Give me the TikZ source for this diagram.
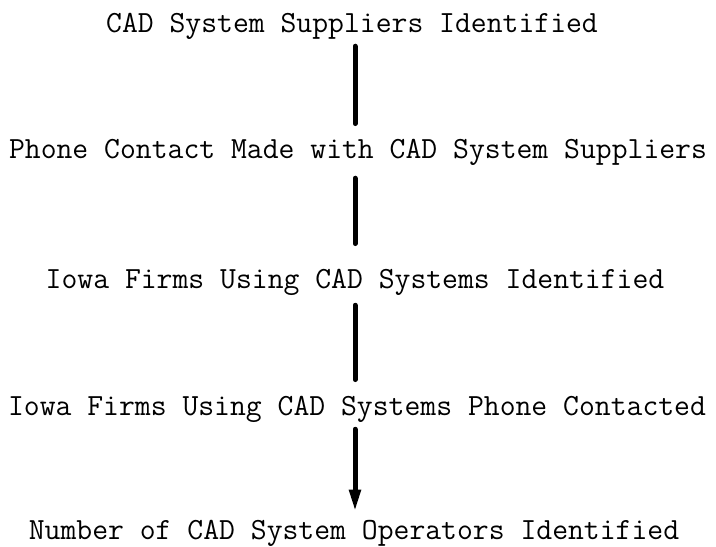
\documentclass[tikz,border=0pt]{standalone}
\usetikzlibrary{arrows.meta}

\tikzset{
  stage/.style={font=\fontsize{30.8}{36}\selectfont\ttfamily, inner sep=0pt, anchor=base},
  link/.style={line width=5pt, line cap=round},
  lastlink/.style={line width=5pt, line cap=round, -{Triangle[length=22pt,width=11pt]}}
}

\begin{document}
\begin{tikzpicture}[x=1pt,y=-1pt]
      \useasboundingbox (0,0) rectangle (716,547);
      \coordinate (axis) at (355,0);
      \node [stage] (sup)    at (352,32)  {CAD System Suppliers Identified};
      \node [stage] (phone)  at (358,158) {Phone Contact Made with CAD System Suppliers};
      \node [stage] (firms)  at (355,288) {Iowa Firms Using CAD Systems Identified};
      \node [stage] (called) at (357,415) {Iowa Firms Using CAD Systems Phone Contacted};
      \node [stage] (ops)    at (354,539) {Number of CAD System Operators Identified};
      % plain links: gap below the upper text / gap above the lower text
      \foreach \a/\b/\s/\e in {sup/phone/7/15, phone/firms/13/25, firms/called/10/16}
        \draw[link, shorten <=\s pt, shorten >=\e pt] (\a.south -| axis) -- (\b.north -| axis);
      \draw[lastlink, shorten <=7pt, shorten >=8pt] (called.south -| axis) -- (ops.north -| axis);
    \end{tikzpicture}
\end{document}
